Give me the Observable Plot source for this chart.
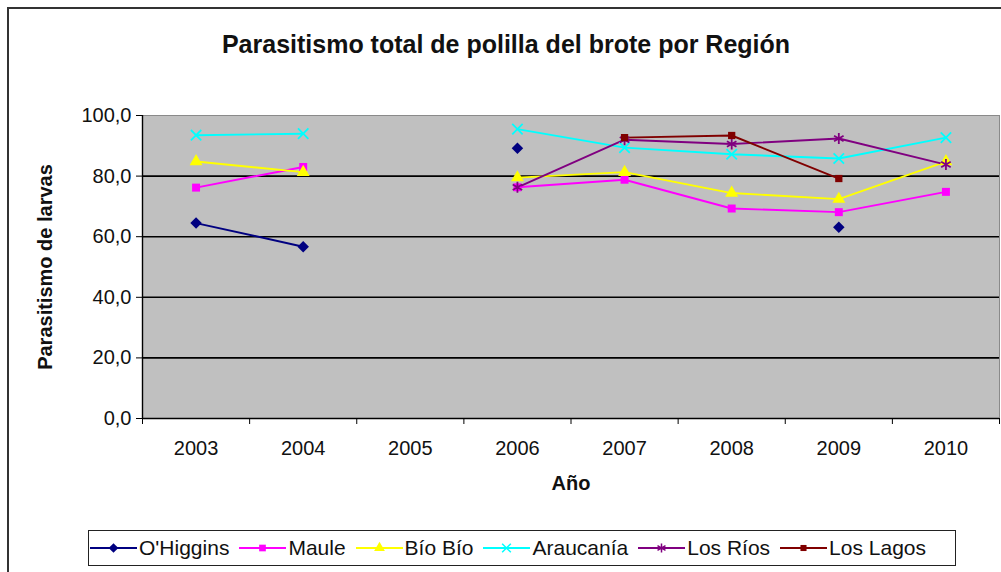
<!DOCTYPE html>
<html>
<head>
<meta charset="utf-8">
<script src="https://cdn.jsdelivr.net/npm/d3@7"></script>
<script src="https://cdn.jsdelivr.net/npm/@observablehq/plot@0.6"></script>
<style>
  html, body { margin: 0; padding: 0; background: #fff; }
  body { width: 1001px; height: 572px; position: relative; overflow: hidden; font-family: "Liberation Sans", Arial, sans-serif; }
  #border { position: absolute; left: 7px; top: 7px; width: 1010px; height: 600px; border-left: 2px solid #333; border-top: 2px solid #333; }
  #title { position: absolute; left: 0; width: 1012px; top: 29px; text-align: center; font-weight: bold; font-size: 25px; line-height: 30px; color: #111; }
  #chart { position: absolute; left: 0; top: 95px; }
  #legend { position: absolute; left: 88px; top: 530px; width: 865px; height: 34px; border: 1.5px solid #222; display: flex; align-items: center; justify-content: flex-start; padding-left: 1px; gap: 10px; font-size: 21px; color: #111; box-sizing: content-box; }
  .item { display: flex; align-items: center; gap: 2px; }
</style>
</head>
<body>
<div id="border"></div>
<div id="title">Parasitismo total de polilla del brote por Región</div>
<div id="chart"></div>
<div id="legend"></div>
<script>
const years = [2003, 2004, 2005, 2006, 2007, 2008, 2009, 2010];
const seriesNames = ["O'Higgins", "Maule", "Bío Bío", "Araucanía", "Los Ríos", "Los Lagos"];
const ohiggins  = [64.5, 56.7, null, 89.2, null, null, 63.1, null];
const maule     = [76.2, 83.0, null, 76.3, 78.8, 69.3, 68.1, 74.8];
const bioBio    = [84.8, 81.3, null, 79.5, 81.3, 74.4, 72.4, 84.8];
const araucania = [93.5, 94.0, null, 95.5, 89.4, 87.2, 85.8, 92.7];
const losRios   = [null, null, null, 76.3, 92.0, 90.6, 92.4, 83.8];
const losLagos  = [null, null, null, null, 92.7, 93.4, 79.2, null];
const yTicks = [0, 20, 40, 60, 80, 100];

const seriesValues = [ohiggins, maule, bioBio, araucania, losRios, losLagos];
const colors = ["#000080", "#FF00FF", "#FFFF00", "#00FFFF", "#800080", "#800000"];
const symbols = ["square", "square", "triangle", "times", "asterisk", "square"];
const rotations = [45, 0, 0, 0, 0, 0];
const filled = [true, true, true, false, false, true];
const sizes = [4.6, 4.5, 4.8, 4.8, 5.2, 4.1];

const rows = [];
seriesNames.forEach((name, i) => years.forEach((yr, j) => rows.push({series: name, idx: i, year: yr, value: seriesValues[i][j]})));

const boundaries = [years[0] - 0.5, ...years.map(y => y + 0.5)];
const fmt = d => d.toFixed(1).replace(".", ",");

const marks = [
  Plot.frame({fill: "#c0c0c0", stroke: "#8a8a8a"}),
  Plot.ruleY(yTicks.filter(d => d > 0 && d < 100), {stroke: "#000", strokeWidth: 1.6}),
  Plot.ruleY([0], {stroke: "#000", strokeWidth: 1.4}),
  Plot.ruleX([boundaries[0]], {stroke: "#000", strokeWidth: 1.4}),
  Plot.axisY({ticks: yTicks, tickFormat: fmt, tickSize: 6, tickPadding: 5, fontSize: 20, label: null, stroke: "#000"}),
  Plot.axisX({ticks: years, tickFormat: d => String(d), tickSize: 0, tickPadding: 22, fontSize: 20, label: null}),
  Plot.axisX({ticks: boundaries, tickFormat: () => "", tickSize: 6, label: null, stroke: "#000"}),
  Plot.text(["Parasitismo de larvas"], {frameAnchor: "left", textAnchor: "middle", rotate: -90, dx: -97, fontSize: 20, fontWeight: "bold", fill: "#111"}),
  Plot.text(["Año"], {frameAnchor: "bottom", dy: 71, fontSize: 20, fontWeight: "bold", fill: "#111"})
];

seriesNames.forEach((name, i) => {
  const data = rows.filter(r => r.idx === i);
  marks.push(Plot.line(data, {x: "year", y: "value", stroke: colors[i], strokeWidth: 1.9}));
});
seriesNames.forEach((name, i) => {
  const data = rows.filter(r => r.idx === i && r.value != null);
  marks.push(Plot.dot(data, filled[i]
    ? {x: "year", y: "value", symbol: () => symbols[i], r: sizes[i], rotate: rotations[i], fill: colors[i], stroke: "none"}
    : {x: "year", y: "value", symbol: () => symbols[i], r: sizes[i], rotate: rotations[i], stroke: colors[i], strokeWidth: 1.8, fill: "none"}));
});

const chart = Plot.plot({
  width: 1001,
  height: 410,
  marginTop: 20,
  marginBottom: 87,
  marginLeft: 142,
  marginRight: 2,
  style: {fontFamily: "'Liberation Sans', Arial, sans-serif", color: "#111", background: "transparent"},
  x: {type: "linear", domain: [boundaries[0], boundaries[boundaries.length - 1]]},
  y: {domain: [0, 100]},
  symbol: {type: "identity"},
  marks
});
document.getElementById("chart").appendChild(chart);

// legend
const d3sym = {square: d3.symbolSquare, triangle: d3.symbolTriangle, times: d3.symbolTimes, asterisk: d3.symbolAsterisk};
const legend = d3.select("#legend");
seriesNames.forEach((name, i) => {
  const item = legend.append("div").attr("class", "item");
  const svg = item.append("svg").attr("width", 47).attr("height", 16);
  svg.append("line").attr("x1", 0).attr("x2", 47).attr("y1", 8).attr("y2", 8).attr("stroke", colors[i]).attr("stroke-width", 1.9);
  const sz = Math.PI * sizes[i] * sizes[i] * 0.7;
  svg.append("path").attr("transform", `translate(23.5,8) rotate(${rotations[i]})`)
    .attr("d", d3.symbol(d3sym[symbols[i]], sz)())
    .attr("fill", filled[i] ? colors[i] : "none")
    .attr("stroke", filled[i] ? "none" : colors[i])
    .attr("stroke-width", 1.5);
  item.append("span").text(name);
});
</script>
</body>
</html>
